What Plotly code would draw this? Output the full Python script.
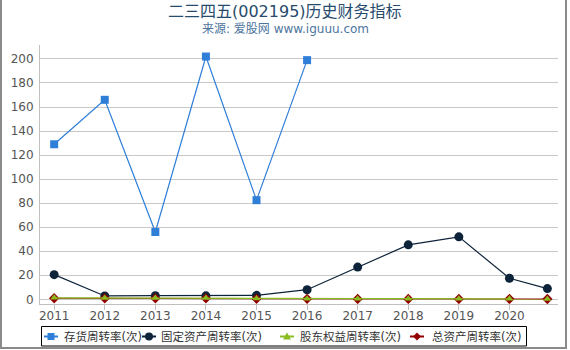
import plotly.graph_objects as go

# ---------------- data ----------------
years = [2011, 2012, 2013, 2014, 2015, 2016, 2017, 2018, 2019, 2020, 2020.75]
year_ticks = [2011, 2012, 2013, 2014, 2015, 2016, 2017, 2018, 2019, 2020]
year_labels = ["2011", "2012", "2013", "2014", "2015", "2016", "2017", "2018", "2019", "2020"]

inventory_turnover = [129, 166, 56, 202, 82.5, 199, None, None, None, None, None]
fixed_asset_turnover = [20.5, 2.8, 3.0, 2.9, 3.3, 8.0, 26.8, 45.3, 52.0, 17.5, 8.9]
equity_turnover = [1.2, 1.1, 1.0, 1.0, 0.6, 0.5, 0.4, 0.4, 0.4, 0.4, 0.3]
total_asset_turnover = [0.9, 0.8, 0.8, 0.8, 0.5, 0.4, 0.3, 0.3, 0.3, 0.3, 0.2]

series_names = ["存货周转率(次)", "固定资产周转率(次)", "股东权益周转率(次)", "总资产周转率(次)"]
colors = ["#2f7ed8", "#0d233a", "#8bbc21", "#910000"]

title_text = "二三四五(002195)历史财务指标"
subtitle_text = "来源: 爱股网 www.iguuu.com"

# ---------------- layout geometry ----------------
W, H = 570, 350
L, R, T, B = 40, 12, 45, 46
PW, PH = W - L - R, H - T - B

def px(x):
    return (x - L) / PW

def py(y):
    return (H - B - y) / PH

FONT = "DejaVu Sans, Noto Sans CJK SC, sans-serif"

fig = go.Figure()

fig.add_trace(go.Scatter(
    x=years, y=inventory_turnover, name=series_names[0], mode="lines+markers",
    line=dict(color=colors[0], width=1.2),
    marker=dict(symbol="square", size=8, color=colors[0]),
    connectgaps=False))
fig.add_trace(go.Scatter(
    x=years, y=fixed_asset_turnover, name=series_names[1], mode="lines+markers",
    line=dict(color=colors[1], width=1.2),
    marker=dict(symbol="circle", size=9, color=colors[1])))
fig.add_trace(go.Scatter(
    x=years, y=total_asset_turnover, name=series_names[3], mode="lines+markers",
    line=dict(color=colors[3], width=1.2),
    marker=dict(symbol="diamond", size=8, color=colors[3])))
fig.add_trace(go.Scatter(
    x=years, y=equity_turnover, name=series_names[2], mode="lines+markers",
    line=dict(color=colors[2], width=1.2),
    marker=dict(symbol="triangle-up", size=7, color=colors[2])))

shapes = []
annotations = []

# outer chart border (left, bottom, right)
shapes.append(dict(type="path", xref="paper", yref="paper",
                   path=f"M {px(1)} {py(-2)} L {px(1)} {py(348)} L {px(566)} {py(348)} L {px(566)} {py(-2)}",
                   line=dict(color="#8a8a8a", width=2), layer="above"))

# custom legend box
shapes.append(dict(type="rect", xref="paper", yref="paper",
                   x0=px(41.5), x1=px(526.5), y0=py(326.5), y1=py(346),
                   line=dict(color="#000000", width=1), fillcolor="rgba(0,0,0,0)"))

ly = 336.5
sym_x = [51, 149, 287, 417]
text_x = [62, 159, 297.5, 430]
for i in range(4):
    c = colors[i]
    shapes.append(dict(type="line", xref="paper", yref="paper",
                       x0=px(sym_x[i] - 7), x1=px(sym_x[i] + 7), y0=py(ly), y1=py(ly),
                       line=dict(color=c, width=2)))
    cx = sym_x[i]
    if i == 0:
        shapes.append(dict(type="rect", xref="paper", yref="paper",
                           x0=px(cx - 3.5), x1=px(cx + 3.5), y0=py(ly + 3.5), y1=py(ly - 3.5),
                           fillcolor=c, line=dict(width=0)))
    elif i == 1:
        shapes.append(dict(type="circle", xref="paper", yref="paper",
                           x0=px(cx - 4), x1=px(cx + 4), y0=py(ly + 4), y1=py(ly - 4),
                           fillcolor=c, line=dict(width=0)))
    elif i == 2:
        shapes.append(dict(type="path", xref="paper", yref="paper",
                           path=f"M {px(cx)} {py(ly - 4)} L {px(cx + 4)} {py(ly + 3)} L {px(cx - 4)} {py(ly + 3)} Z",
                           fillcolor=c, line=dict(width=0)))
    else:
        shapes.append(dict(type="path", xref="paper", yref="paper",
                           path=f"M {px(cx)} {py(ly - 4)} L {px(cx + 4)} {py(ly)} L {px(cx)} {py(ly + 4)} L {px(cx - 4)} {py(ly)} Z",
                           fillcolor=c, line=dict(width=0)))
    annotations.append(dict(xref="paper", yref="paper", x=px(text_x[i]), y=py(ly),
                            xanchor="left", yanchor="middle", showarrow=False,
                            text=series_names[i],
                            font=dict(family=FONT, size=11.5, color="#333333")))

# title & subtitle
annotations.append(dict(xref="paper", yref="paper", x=px(285), y=py(11.5),
                        xanchor="center", yanchor="middle", showarrow=False,
                        text=title_text, font=dict(family=FONT, size=16, color="#274b6d")))
annotations.append(dict(xref="paper", yref="paper", x=px(285), y=py(29),
                        xanchor="center", yanchor="middle", showarrow=False,
                        text=subtitle_text, font=dict(family=FONT, size=12, color="#4d759e")))

fig.update_layout(
    width=W, height=H,
    margin=dict(l=L, r=R, t=T, b=B, pad=0),
    paper_bgcolor="#ffffff", plot_bgcolor="#ffffff",
    showlegend=False,
    hovermode=False,
    font=dict(family=FONT, size=12, color="#666666"),
    shapes=shapes,
    annotations=annotations,
    xaxis=dict(range=[2010.72, 2020.96], tickmode="array", tickvals=year_ticks, ticktext=year_labels,
               showgrid=False, zeroline=False, showline=True, linecolor="#c0c0c0", linewidth=1,
               ticks="outside", ticklen=5, tickcolor="#c0c0c0", tickwidth=1,
               ticklabelstandoff=-4,
               tickfont=dict(family=FONT, size=12, color="#555555")),
    yaxis=dict(range=[-3.9, 211.6], tickmode="array", tickvals=list(range(0, 201, 20)),
               showgrid=True, gridcolor="#c8c8c8", gridwidth=1, zeroline=False,
               showline=True, linecolor="#c0c0c0", linewidth=1,
               ticks="", ticklabelstandoff=3,
               tickfont=dict(family=FONT, size=12, color="#555555")),
)

fig.write_html("out.html")
